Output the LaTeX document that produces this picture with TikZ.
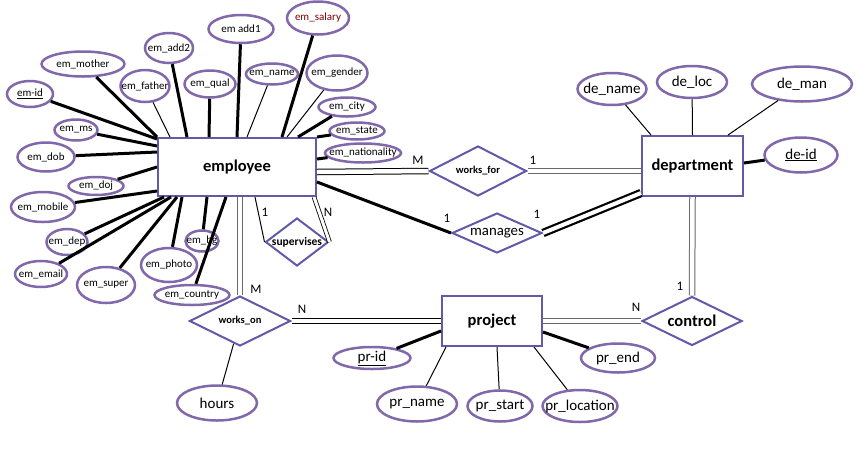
\documentclass[tikz,border=0pt]{standalone}
\usepackage{fontspec}
\setmainfont{Carlito}
\usetikzlibrary{shapes.geometric,calc}
\definecolor{attrc}{RGB}{128,104,170}
\definecolor{entc}{RGB}{98,90,168}
\definecolor{salc}{RGB}{128,0,0}
\definecolor{linkg}{RGB}{105,105,105}
\newcommand{\zb}[1]{\makebox[0pt]{#1}}
\tikzset{sz/.style 2 args={minimum width=#1pt, minimum height=#2pt}}

\begin{document}
\begin{tikzpicture}[x=1pt,y=-1pt,
  entity/.style={rectangle, draw=entc, line width=2pt, fill=white, inner sep=0, font=\fontsize{16.5}{18}\selectfont\bfseries},
  rel/.style={diamond, draw=entc, line width=2pt, fill=white, inner sep=0},
  attr/.style={ellipse, draw=attrc, line width=2.5pt, fill=white, inner sep=0},
  smalltxt/.style={font=\fontsize{11}{12}\selectfont},
  bigtxt/.style={font=\fontsize{15}{16}\selectfont},
  card/.style={inner sep=0, font=\fontsize{13}{14}\selectfont},
  thk/.style={line width=3pt},
  thn/.style={line width=1pt},
  dbl/.style={double=white, double distance=4.5pt, line width=1pt}]
\useasboundingbox (0,0) rectangle (864,472);

% entities
\draw (237,167) node[entity, sz={158}{58}] (emp) {employee};
\draw (692.5,166) node[entity, sz={101}{60}] (dept) {department};
\draw (492,321) node[entity, sz={100}{50}] (proj) {project};

% relationships
\draw (478,171) node[rel, sz={97}{50}, font=\fontsize{10.5}{12}\selectfont\bfseries] (wf) {\zb{works\_for}};
\draw (497,233) node[rel, sz={90}{40}, font=\fontsize{14.8}{16}\selectfont] (man) {\zb{manages}};
\draw (297,242) node[rel, sz={63}{48}, font=\fontsize{11.5}{12}\selectfont\bfseries] (sup) {\zb{supervises}};
\draw (240,321) node[rel, sz={101}{50}, font=\fontsize{10.5}{12}\selectfont\bfseries] (won) {\zb{works\_on}};
\draw (692,321) node[rel, sz={100}{49}, font=\fontsize{16.5}{18}\selectfont\bfseries] (ctl) {\zb{control}};

% employee attributes
\draw (30,94) node[attr, smalltxt, sz={46}{26}] (eid) {\zb{\underline{em-id}}};
\draw (83,64) node[attr, smalltxt, sz={83}{25}] (emoth) {\zb{em\_mother}};
\draw (169,48) node[attr, smalltxt, sz={48}{30}] (eadd2) {\zb{em\_add2}};
\draw (145,86) node[attr, smalltxt, sz={49}{32}] (efath) {\zb{em\_father}};
\draw (76,130) node[attr, smalltxt, sz={43}{21}] (ems) {\zb{em\_ms}};
\draw (210,84) node[attr, smalltxt, sz={51}{27}] (equal) {\zb{em\_qual}};
\draw (241,29) node[attr, smalltxt, sz={65}{28}] (eadd1) {\zb{em add1}};
\draw (318,18) node[attr, smalltxt, sz={62}{33}, text=salc] (esal) {\zb{em\_salary}};
\draw (272,74) node[attr, smalltxt, sz={52}{21}] (ename) {\zb{em\_name}};
\draw (337,73) node[attr, smalltxt, sz={61}{35}] (egen) {\zb{em\_gender}};
\draw (347,107) node[attr, smalltxt, sz={57}{19}] (ecity) {\zb{em\_city}};
\draw (357,131) node[attr, smalltxt, sz={55}{17}] (estate) {\zb{em\_state}};
\draw (363,153) node[attr, smalltxt, sz={76}{19}] (enat) {\zb{em\_nationality}};
\draw (46,157) node[attr, smalltxt, sz={57}{29}] (edob) {\zb{em\_dob}};
\draw (96,186) node[attr, smalltxt, sz={55}{18}] (edoj) {\zb{em\_doj}};
\draw (43,207) node[attr, smalltxt, sz={64}{30}] (emob) {\zb{em\_mobile}};
\draw (67,242) node[attr, smalltxt, sz={41}{26}] (edep) {\zb{em\_dep}};
\draw (41,274) node[attr, smalltxt, sz={52}{26}] (email) {\zb{em\_email}};
\draw (106,285) node[attr, smalltxt, sz={58}{36}] (esup) {\zb{em\_super}};
\draw (169,265) node[attr, smalltxt, sz={56}{34}] (ephoto) {\zb{em\_photo}};
\draw (202,241) node[attr, smalltxt, sz={33}{21}] (ebg) {\zb{em\_bg}};
\draw (192,295) node[attr, smalltxt, sz={75}{20}] (ecoun) {\zb{em\_country}};

% department attributes
\draw (612,89) node[attr, bigtxt, sz={69}{32}] (dname) {\zb{de\_name}};
\draw (692,82) node[attr, bigtxt, sz={70}{32}] (dloc) {\zb{de\_loc}};
\draw (802,84) node[attr, bigtxt, sz={100}{35}] (dman) {\zb{de\_man}};
\draw (801,155) node[attr, bigtxt, sz={73}{35}] (did) {\zb{\underline{de-id}}};

% project attributes
\draw (372,358) node[attr, bigtxt, sz={77}{22}] (prid) {\zb{\underline{pr-id}}};
\draw (417,404) node[attr, bigtxt, sz={80}{35}] (prname) {\zb{pr\_name}};
\draw (500,406) node[attr, bigtxt, sz={65}{31}] (prstart) {\zb{pr\_start}};
\draw (580,406) node[attr, bigtxt, sz={75}{32}] (prloc) {\zb{pr\_location}};
\draw (618,358) node[attr, bigtxt, sz={74}{29}] (prend) {\zb{pr\_end}};
\draw (217,403) node[attr, bigtxt, sz={80}{35}] (hrs) {\zb{hours}};

% employee attribute links
\draw[thk] (eid) -- ([yshift=-2pt]emp.north west);
\draw[thk] (emoth) -- (emp.north west);
\draw[thk] (ems) -- ([yshift=-9pt]emp.north west);
\draw[thk] (edob) -- ([yshift=-15pt]emp.north west);
\draw[thk] (edoj) -- (emp.west);
\draw[thk] (emob) -- ([yshift=6pt]emp.south west);
\draw[thk] (edep) -- ([xshift=7pt]emp.south west);
\draw[thk] (email) -- ([xshift=14pt]emp.south west);
\draw[thk] (esup) -- ([xshift=20pt]emp.south west);
\draw[thk] (ephoto) -- ([xshift=25pt]emp.south west);
\draw[thk] (ebg) -- ([xshift=50pt]emp.south west);
\draw[thk] (ecoun) -- ([xshift=69pt]emp.south west);
\draw[thn] (efath) -- ([xshift=13pt]emp.north west);
\draw[thk] (eadd2) -- ([xshift=30pt]emp.north west);
\draw[thk] (equal) -- ([xshift=52pt]emp.north west);
\draw[thk] (eadd1) -- (emp.north);
\draw[thn] (ename) -- ([xshift=10pt]emp.north);
\draw[thk] (esal) -- ([xshift=45pt]emp.north);
\draw[thn] (egen) -- ([xshift=50pt]emp.north);
\draw[thk] (ecity) -- ([xshift=61pt]emp.north);
\draw[thk] (estate) -- (emp.north east);
\draw[thk] (enat) -- ([yshift=-22pt]emp.north east);

% department and project attribute links
\draw[thn] (dname) -- ([xshift=10pt]dept.north west);
\draw[thn] (dloc) -- (dept.north);
\draw[thn] (dman) -- ([xshift=-16pt]dept.north east);
\draw[thk] (did) -- ([yshift=3pt]dept.east);
\draw[thk] (prid) -- ([yshift=-10pt]proj.west);
\draw[thn] (prname) -- ([xshift=5pt]proj.south west);
\draw[thn] (prstart) -- ([xshift=5pt]proj.south);
\draw[thn] (prloc) -- ([xshift=-9pt]proj.south east);
\draw[thk] (prend) -- ([yshift=-11pt]proj.east);
\draw[thn] (hrs) -- (won);

% relationship links
\draw[dbl] ([yshift=-5pt]emp.east) -- (wf.west);
\draw[dbl, linkg] (wf.east) -- ([yshift=-5pt]dept.west);
\draw[thk] ([yshift=-15pt]emp.east) -- (man.west);
\draw[line width=2.2pt, double=white, double distance=4pt] (man.east) -- ([yshift=4pt]dept.south west);
\draw[thn] ([xshift=18pt]emp.south) -- (sup.west);
\draw[line width=0.8pt, double=white, double distance=3pt] ([xshift=-3pt]emp.south east) -- (sup.east);
\draw[dbl, linkg] (emp.south -| won.north) -- (won.north);
\draw[dbl] (won.east) -- (proj.west);
\draw[dbl, linkg] (proj.east) -- (ctl.west);
\draw[dbl, linkg] (dept.south) -- (ctl.north);

% cardinalities
\draw (418,160) node[card] (cwfm) {M};
\draw (533,160) node[card] (cwf1) {1};
\draw (447,218) node[card] (cman1) {1};
\draw (537,214) node[card] (cman2) {1};
\draw (265,212) node[card] (csup1) {1};
\draw (328,212) node[card] (csupn) {N};
\draw (256,289) node[card] (cwonm) {M};
\draw (302,309) node[card] (cwonn) {N};
\draw (636,307) node[card] (cctln) {N};
\draw (680,286) node[card] (cctl1) {1};
\end{tikzpicture}
\end{document}
